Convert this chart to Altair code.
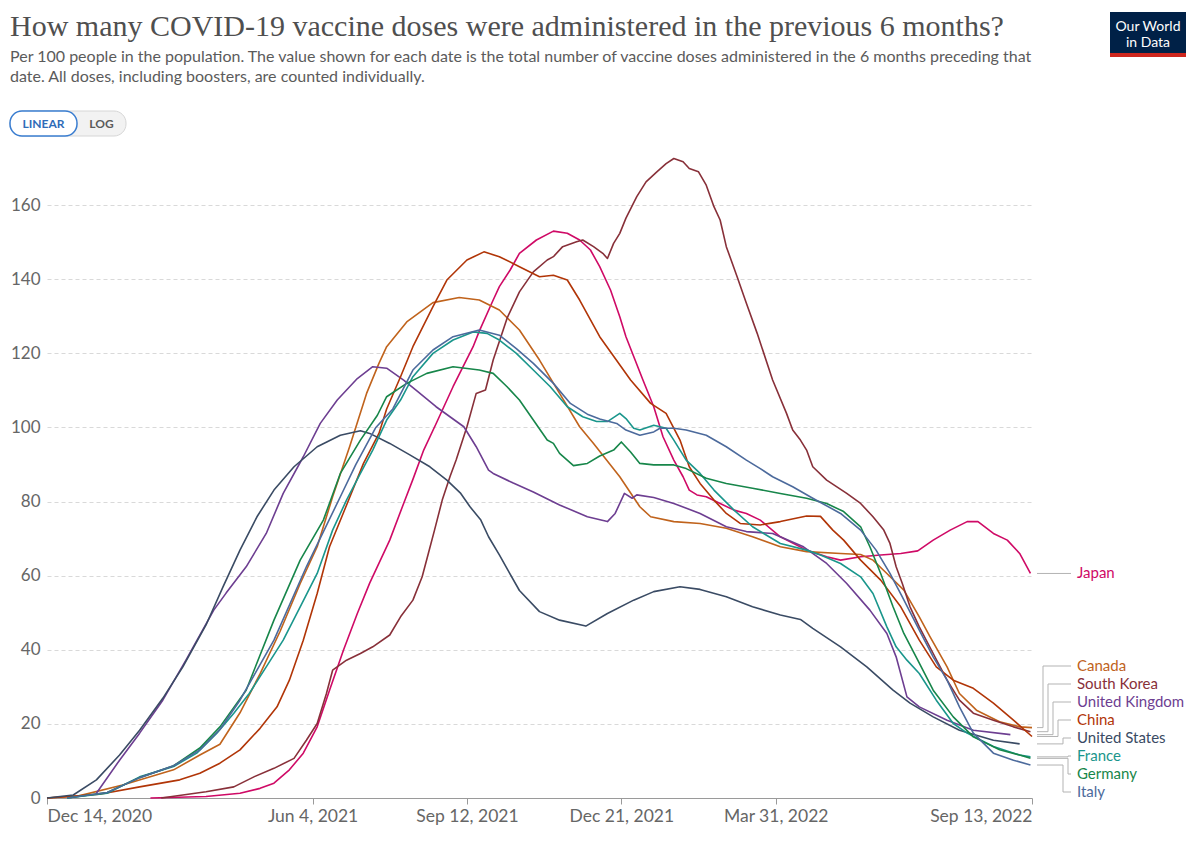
import altair as alt
import pandas as pd

START = pd.Timestamp("2020-12-14")

# [days since 2020-12-14, doses per 100 people administered in the previous 6 months]
canada = [[0,0],[20,0.5],[49,3.5],[82,7.6],[99,11.6],[112,14.5],[125,23],[138,33.5],[151,45],[164,57.9],[175,67.8],[185,81.3],[196,94.8],[207,109.2],[215,117.3],[220,121.8],[233,128.5],[250,133.7],[267,135.1],[280,134.4],[293,131.7],[306,126.3],[319,118.2],[332,109.2],[345,100.2],[354,95.7],[371,86.7],[384,78.6],[391,75.9],[406,74.6],[423,74.1],[440,72.8],[457,70.5],[475,67.8],[492,66.5],[514,66],[527,65.7],[535,64.2],[544,60.6],[555,56.1],[565,48.9],[572,43.5],[583,35.4],[591,28.2],[602,23.7],[617,20.6],[630,19.2],[638,19]]
south_korea = [[74,0],[103,1.7],[121,3],[134,5.7],[147,8],[160,10.7],[168,15.6],[175,20.1],[181,28.2],[185,34.5],[194,37.2],[203,39],[211,40.8],[222,44],[229,48.9],[237,53.4],[243,59.7],[247,66],[251,72.3],[256,80.4],[261,86.7],[265,91.2],[272,100.2],[278,109.2],[284,110.1],[289,118.2],[298,129.5],[306,136.6],[315,142],[324,145.2],[328,146.1],[334,148.8],[343,150.1],[347,150.6],[354,148.8],[360,147],[363,145.6],[367,149.7],[371,152.4],[375,156.5],[382,162.3],[388,166.3],[395,169],[401,171.2],[406,172.6],[412,171.7],[416,169.9],[422,169],[427,165.4],[432,159.6],[436,156],[440,148.8],[447,140.7],[453,133.5],[460,125.4],[470,112.8],[479,103.8],[483,99.3],[488,96.6],[492,93.9],[496,89.4],[505,85.8],[518,82.2],[527,79.5],[535,75.9],[542,72.3],[546,68.7],[550,62.4],[554,57.9],[559,51.6],[565,46.2],[574,39],[583,31.8],[591,26.4],[600,22.9],[613,21],[626,19.2],[637,17.9]]
united_kingdom = [[32,1.3],[47,10.2],[60,17.5],[75,26.4],[90,37.2],[108,50.7],[116,55.3],[129,62.4],[142,71.4],[153,82.2],[166,92.1],[177,101.1],[188,107.4],[201,113.2],[211,116.4],[220,116],[231,112.8],[239,110.1],[252,105.6],[270,100.2],[278,94.8],[286,88.5],[289,87.6],[302,85],[315,82.6],[332,79.1],[350,75.9],[363,74.6],[368,76.8],[374,82.2],[379,80.9],[382,81.8],[393,81.1],[406,79.5],[423,76.8],[440,73.2],[453,71.9],[470,71.4],[490,67.8],[505,63.3],[518,57.9],[533,50.7],[544,44.4],[550,38.1],[557,27.3],[565,24.6],[583,21],[600,18.3],[624,17.1]]
china = [[0,0],[34,1],[60,3],[86,4.9],[99,6.7],[112,9.4],[125,13],[138,18.8],[149,24.6],[157,31.8],[166,42.6],[175,55.2],[183,67.8],[193,78],[205,90.3],[215,98.4],[220,105],[229,113.7],[237,121.8],[250,132.6],[259,139.8],[272,145.2],[283,147.4],[293,146.1],[306,143.4],[319,140.7],[328,141.1],[337,139.8],[345,134.4],[358,124.5],[378,112.8],[391,106.5],[401,103.8],[410,96.6],[416,89.4],[423,84.9],[432,80.4],[440,76.8],[449,74.1],[462,73.7],[475,74.6],[492,76.1],[501,76],[509,72.3],[516,69.6],[527,64.2],[540,58.8],[553,51.6],[565,42.6],[576,35.4],[587,31.8],[600,29.6],[613,25.6],[626,21],[638,16.6]]
united_states = [[0,0],[17,0.8],[32,4.9],[47,11.6],[60,18.3],[75,26.9],[88,35.4],[103,46.7],[114,57],[125,66.9],[136,75.9],[147,83.1],[160,89.4],[175,94.8],[190,97.9],[203,99.1],[209,98.4],[222,95.7],[235,92.6],[248,89.4],[259,85.8],[268,82.2],[274,78.6],[281,75],[286,70.5],[293,65.6],[306,56],[319,50.3],[332,48],[349,46.4],[363,49.8],[380,53.4],[393,55.7],[410,57],[423,56.3],[440,54.3],[457,51.6],[475,49.4],[488,48.2],[496,45.8],[514,40.8],[531,35.4],[548,29.1],[559,25.6],[574,21.9],[591,18.3],[613,15.6],[630,14.6]]
france = [[13,0],[39,1.3],[60,5.7],[82,8.5],[97,12.1],[110,17.5],[121,22.9],[131,28.2],[142,35.4],[153,42.6],[164,51.6],[175,60.6],[185,72.3],[194,80.4],[203,87.6],[211,93.9],[220,102],[229,107.4],[237,113.7],[250,120],[263,123.6],[276,125.8],[285,125.4],[293,123.6],[304,120],[315,115.5],[326,111],[337,105.6],[347,102.9],[356,101.6],[363,101.6],[371,103.8],[375,102.4],[380,99.8],[384,99.3],[393,100.6],[401,99.8],[406,96.6],[414,91.2],[423,87.6],[432,83.1],[445,77.7],[457,73.2],[475,68.7],[492,66.9],[501,65.6],[514,63.3],[527,59.7],[535,55.2],[544,46.2],[550,40.8],[557,37.2],[565,33.6],[576,26.4],[587,20.1],[596,17.5],[613,13.9],[630,11.6],[637,11.1]]
germany = [[13,0],[39,1.5],[60,5.5],[82,8.7],[99,13.5],[112,19.2],[129,29.1],[147,48],[164,64.2],[179,75],[190,87.6],[203,96.6],[214,103.3],[220,108.3],[233,111.9],[246,114.6],[263,116.4],[280,115.5],[289,114.6],[298,111],[306,107.4],[315,102],[324,96.6],[328,95.7],[332,93],[341,89.7],[350,90.3],[358,92.3],[367,93.9],[372,96.1],[378,93.4],[384,90.3],[393,89.9],[406,89.9],[414,88.9],[427,86.3],[440,84.9],[457,83.6],[475,82.2],[492,80.9],[505,79.5],[516,77.3],[527,73.2],[533,67.8],[540,60.6],[548,51.6],[555,44.4],[564,37.2],[574,29.1],[587,21.9],[600,16.5],[617,13],[630,11.6],[637,10.7]]
italy = [[13,0],[39,1.5],[60,5.5],[82,8.7],[99,13],[112,18.5],[125,26.4],[147,42.6],[168,62.4],[190,81.3],[200,90],[213,100],[224,105],[237,115.5],[250,120.9],[263,124.5],[280,126.3],[293,124.9],[304,121.3],[315,117.3],[328,111.9],[339,106.5],[350,103.6],[358,102.3],[369,101.1],[375,99.3],[384,97.9],[393,98.8],[397,99.8],[406,99.8],[414,99.3],[427,97.9],[440,94.8],[453,91.2],[462,88.9],[470,86.7],[483,84],[496,80.9],[514,76.8],[527,72.3],[537,66.9],[546,60.6],[554,54.3],[565,45.3],[574,38.1],[583,31.8],[591,24.6],[600,17.5],[613,12.1],[626,10.2],[637,8.9]]
japan = [[67,0],[103,0.4],[125,1.3],[138,2.6],[147,4],[157,7.6],[166,12.1],[175,19.2],[183,29.1],[192,39.9],[201,49.8],[209,58],[222,69.6],[231,79.5],[237,86],[244,93.9],[252,101],[263,111],[276,121.8],[280,126],[289,134.4],[293,138],[300,142.5],[306,147],[317,150.6],[328,153],[337,152.4],[345,150.6],[352,147.9],[358,143.4],[365,137.1],[371,129.9],[375,124.5],[386,112.8],[393,105.6],[399,97.5],[406,91.2],[412,86.7],[416,83.1],[421,81.8],[427,81.3],[436,79.5],[445,77.7],[453,76.8],[462,75],[475,70.5],[492,66.9],[505,65.1],[514,64.2],[527,65.1],[540,65.6],[553,66],[564,66.7],[574,69.6],[585,72.3],[596,74.6],[603,74.6],[613,71.4],[622,69.6],[630,66],[637,60.6]]

countries = ["Japan", "Canada", "South Korea", "United Kingdom", "China",
             "United States", "France", "Germany", "Italy"]
series_data = [japan, canada, south_korea, united_kingdom, china,
               united_states, france, germany, italy]
colors = ["#CF0A66", "#C0631C", "#883039", "#6D3E91", "#B13507",
          "#3A4B64", "#1A968C", "#17864A", "#4C6A9C"]

x_ticks = ["2020-12-14", "2021-06-04", "2021-09-12", "2021-12-21", "2022-03-31", "2022-09-13"]
y_ticks = [0, 20, 40, 60, 80, 100, 120, 140, 160]

TITLE = "How many COVID-19 vaccine doses were administered in the previous 6 months?"
SUB1 = ("Per 100 people in the population. The value shown for each date is the total number of "
        "vaccine doses administered in the 6 months preceding that")
SUB2 = "date. All doses, including boosters, are counted individually."

# ---------- tidy table ----------
rows = []
for name, pts in zip(countries, series_data):
    for d, v in pts:
        rows.append({"country": name,
                     "date": (START + pd.Timedelta(days=d)).strftime("%Y-%m-%d"),
                     "value": v})
df = pd.DataFrame(rows)

# ---------- end-label layout (avoid overlaps) ----------
W, H = 985, 641
Y_MAX = 173
PX_PER_UNIT = H / Y_MAX
GAP = 18 / PX_PER_UNIT
FLOOR = 6 / PX_PER_UNIT
ends = {n: pts[-1][1] for n, pts in zip(countries, series_data)}
order = sorted(countries, key=lambda n: ends[n], reverse=True)


def top_of(cl):
    m = len(cl)
    c = sum(ends[n] for n in cl) / m
    top = c + GAP * (m - 1) / 2
    bottom = top - GAP * (m - 1)
    if bottom < FLOOR:
        top += FLOOR - bottom
    return top


clusters = [[n] for n in order]
changed = True
while changed:
    changed = False
    for i in range(len(clusters) - 1):
        a, b = clusters[i], clusters[i + 1]
        if (top_of(a) - GAP * (len(a) - 1)) - top_of(b) < GAP:
            clusters[i] = a + b
            del clusters[i + 1]
            changed = True
            break

label_pos = {}
for cl in clusters:
    t = top_of(cl)
    for k, n in enumerate(cl):
        label_pos[n] = t - GAP * k

LEAD_START, LEAD_END, LABEL_X = W + 5, W + 39, W + 45
up = [n for n in order if label_pos[n] - ends[n] > 0.05]
down = [n for n in order if label_pos[n] - ends[n] < -0.05]
elbow = {n: W + 25 for n in countries}
for i, n in enumerate(up):
    elbow[n] = W + 11 + 5 * i
for j, n in enumerate(reversed(down)):
    elbow[n] = W + 31 + 5 * j

lead_rows = []
for n in countries:
    pts = [(LEAD_START, ends[n]), (elbow[n], ends[n]), (elbow[n], label_pos[n]), (LEAD_END, label_pos[n])]
    for k, (px, v) in enumerate(pts):
        lead_rows.append({"country": n, "px": px, "value": v, "k": k})
lead_df = pd.DataFrame(lead_rows)
label_df = pd.DataFrame({"country": countries, "value": [label_pos[n] for n in countries]})

# ---------- scales / axes ----------
xscale = alt.Scale(type="utc",
                   domain=[alt.DateTime(year=2020, month=12, date=14, utc=True),
                           alt.DateTime(year=2022, month=9, date=13, utc=True)])
yscale = alt.Scale(domain=[0, Y_MAX], nice=False, zero=True)
cscale = alt.Scale(domain=countries, range=colors)

x_vals = [alt.DateTime(year=int(s[:4]), month=int(s[5:7]), date=int(s[8:]), utc=True) for s in x_ticks]

yaxis = alt.Axis(values=y_ticks, domain=False, ticks=False, tickSize=0,
                 labelPadding=7, labelFontSize=17, labelColor="#666666",
                 labelFont="Lato", grid=True, gridColor="#d9d9d9",
                 gridDash=[4, 3], gridWidth=1, title=None)

lines = alt.Chart(df).mark_line(strokeWidth=1.6, strokeJoin="round").encode(
    x=alt.X("date:T", scale=xscale, title=None,
            axis=alt.Axis(values=x_vals, labelExpr="utcFormat(datum.value, '%b %-d, %Y')",
                          labelFlush=True, labelOverlap=False, grid=False,
                          domainColor="#9a9a9a", tickColor="#9a9a9a", tickSize=6,
                          labelPadding=3, labelFontSize=17.5, labelColor="#666666",
                          labelFont="Lato")),
    y=alt.Y("value:Q", scale=yscale, title=None, axis=yaxis),
    color=alt.Color("country:N", scale=cscale, legend=None),
    detail="country:N",
)

leaders = alt.Chart(lead_df).mark_line(strokeWidth=1, color="#b3b3b3").encode(
    x=alt.X("px:Q", scale=None, axis=None),
    y=alt.Y("value:Q", scale=yscale, title=None, axis=yaxis),
    detail="country:N",
    order="k:Q",
)

labels = alt.Chart(label_df).mark_text(align="left", baseline="middle", font="Lato",
                                       fontSize=15).encode(
    x=alt.value(LABEL_X),
    y=alt.Y("value:Q", scale=yscale, title=None, axis=yaxis),
    text="country:N",
    color=alt.Color("country:N", scale=cscale, legend=None),
)


def txt(s, x, y, **kw):
    return alt.Chart(pd.DataFrame({"t": [s]})).mark_text(**kw).encode(
        text="t:N", x=alt.value(x), y=alt.value(y))


def box(x1, x2, y1, y2, **kw):
    return alt.Chart(pd.DataFrame({"a": [0]})).mark_rect(**kw).encode(
        x=alt.value(x1), x2=alt.value(x2), y=alt.value(y1), y2=alt.value(y2))


title = txt(TITLE, -37, -121, align="left", baseline="alphabetic",
            font="Liberation Serif", fontSize=30, color="#4f4f4f")
sub1 = txt(SUB1, -37, -95, align="left", baseline="alphabetic",
           font="Lato", fontSize=16, color="#5b5b5b")
sub2 = txt(SUB2, -37, -75, align="left", baseline="alphabetic",
           font="Lato", fontSize=16, color="#5b5b5b")

btn_bg = box(-37, 79, -46, -21, fill="#f2f2f2", stroke="#d6d6d6", strokeWidth=1, cornerRadius=12)
btn_lin = box(-37, 30, -46, -21, fill="#ffffff", stroke="#3a7dd0", strokeWidth=1.5, cornerRadius=12)
btn_t1 = txt("LINEAR", -3.5, -33.5, align="center", baseline="middle", font="Lato",
             fontSize=12, fontWeight="bold", color="#2f6cb8")
btn_t2 = txt("LOG", 54.5, -33.5, align="center", baseline="middle", font="Lato",
             fontSize=12, fontWeight="bold", color="#5b5b5b")

logo_bg = box(1063, 1139, -145, -104, fill="#002147")
logo_red = box(1063, 1139, -104, -100, fill="#CE261E")
logo_t1 = txt("Our World", 1101, -130, align="center", baseline="middle", font="Lato",
              fontSize=14, color="#ffffff")
logo_t2 = txt("in Data", 1101, -114, align="center", baseline="middle", font="Lato",
              fontSize=14, color="#ffffff")

chart = alt.layer(
    lines, leaders, labels, title, sub1, sub2,
    btn_bg, btn_lin, btn_t1, btn_t2, logo_bg, logo_red, logo_t1, logo_t2,
).resolve_scale(x="independent").properties(
    width=W, height=H,
    padding={"left": 39, "top": 149, "right": 160, "bottom": 43},
    autosize=alt.AutoSizeParams(type="none"),
).configure(background="#ffffff").configure_view(stroke=None)

chart.save("out.html", embed_options={"renderer": "svg", "actions": False})
